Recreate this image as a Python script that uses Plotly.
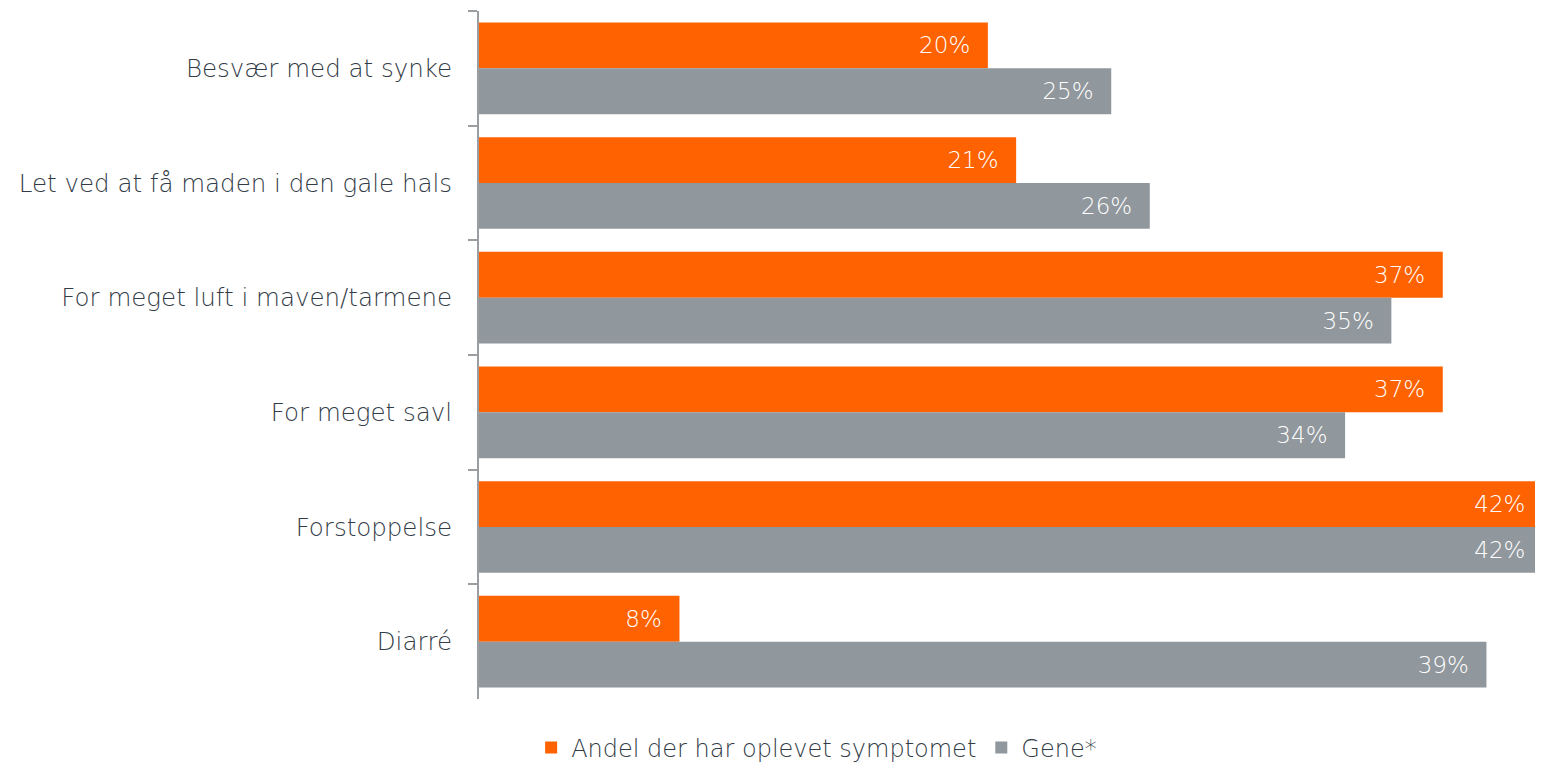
import plotly.graph_objects as go

categories = [
    "Besvær med at synke",
    "Let ved at få maden i den gale hals",
    "For meget luft i maven/tarmene",
    "For meget savl",
    "Forstoppelse",
    "Diarré",
]
series_names = ["Andel der har oplevet symptomet", "Gene*"]
symptom_values = [19.8, 20.9, 37.5, 37.5, 41.4, 7.8]
symptom_labels = ["20%", "21%", "37%", "37%", "42%", "8%"]
gene_values = [24.6, 26.1, 35.5, 33.7, 41.4, 39.2]
gene_labels = ["25%", "26%", "35%", "34%", "42%", "39%"]

ORANGE = "#ff6200"
GRAY = "#90979d"
TEXT = "#323b46"
FONT = "DejaVu Sans"
PAD = "\u00a0\u00a0"

fig = go.Figure()
for name, vals, labs, col in [
    (series_names[0], symptom_values, symptom_labels, ORANGE),
    (series_names[1], gene_values, gene_labels, GRAY),
]:
    fig.add_trace(go.Bar(
        y=categories, x=vals, name=name, orientation="h",
        marker=dict(color=col, line=dict(width=0)),
        text=[l + PAD for l in labs], textposition="inside",
        insidetextanchor="end",
        textfont=dict(color="white", size=23, family=FONT, weight=200),
        hoverinfo="skip",
    ))

fig.update_layout(
    width=1535, height=757,
    margin=dict(l=471, r=0, t=3, b=66, autoexpand=False),
    barmode="group", bargap=0.2, bargroupgap=0,
    plot_bgcolor="white", paper_bgcolor="white",
    font=dict(family=FONT, color=TEXT, size=24.5, weight=200),
    showlegend=True,
    legend=dict(orientation="h", x=0.049, xanchor="left", y=-0.071, yanchor="middle",
                font=dict(size=24, color=TEXT, family=FONT, weight=200),
                traceorder="normal"),
    xaxis=dict(range=[0, 41.4], visible=False, showgrid=False, zeroline=False),
    yaxis=dict(autorange="reversed", showline=True, linecolor="#9a9ea3", linewidth=2,
               ticks="outside", tickson="boundaries", ticklen=9, tickwidth=2,
               tickcolor="#9a9ea3", showgrid=False, ticklabelstandoff=20,
               tickfont=dict(size=24.5, color=TEXT, family=FONT, weight=200)),
)

fig.write_html("out.html")
